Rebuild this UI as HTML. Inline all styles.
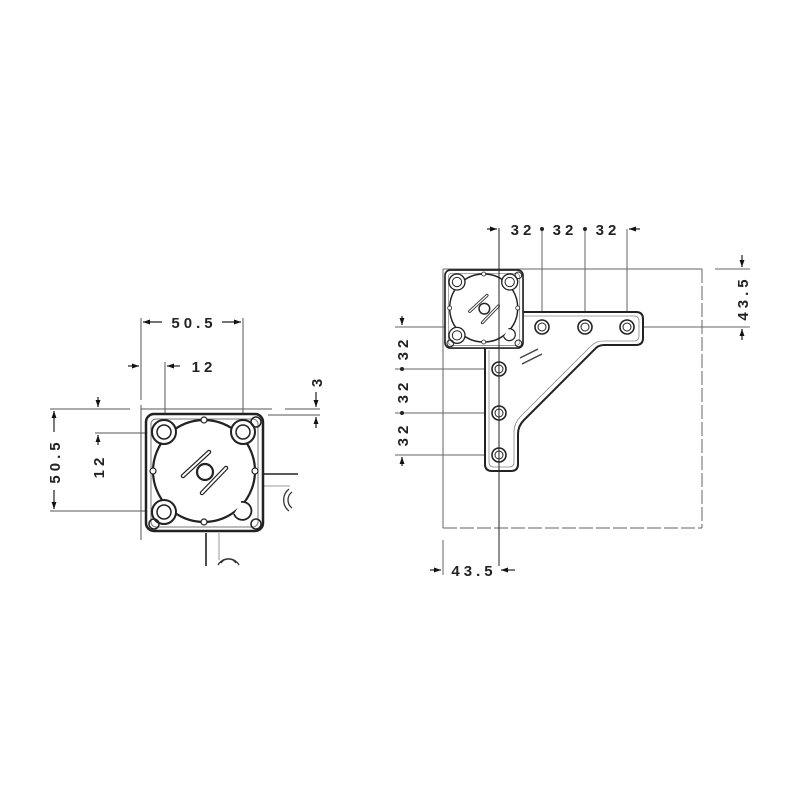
<!DOCTYPE html>
<html><head><meta charset="utf-8"><style>
html,body{margin:0;padding:0;background:#fff;}
svg{display:block}
text{font-family:"Liberation Sans",sans-serif;font-weight:bold;font-size:15px;fill:#222;letter-spacing:4px}
</style></head><body>
<svg width="800" height="800" viewBox="0 0 800 800" xmlns="http://www.w3.org/2000/svg">
<defs>
<marker id="a" viewBox="0 0 10 10" refX="10" refY="5" markerWidth="11" markerHeight="7" orient="auto-start-reverse" markerUnits="userSpaceOnUse"><path d="M0,1.5 L10,5 L0,8.5z" fill="#111"/></marker>
<g id="plate">
 <rect x="0" y="0" width="117" height="117" rx="8" fill="#fff" stroke="#222" stroke-width="2.5"/>
 <rect x="5" y="5" width="107" height="108" rx="5" fill="none" stroke="#777" stroke-width="1"/>
 <circle cx="58" cy="57" r="51" fill="#fff" stroke="#222" stroke-width="2.2"/>
 <circle cx="18" cy="18" r="12" fill="#fff" stroke="#222" stroke-width="2"/><circle cx="18" cy="18" r="7" fill="none" stroke="#222" stroke-width="1.5"/>
 <circle cx="97" cy="18" r="12" fill="#fff" stroke="#222" stroke-width="2"/><circle cx="97" cy="18" r="7" fill="none" stroke="#222" stroke-width="1.5"/>
 <circle cx="18" cy="98" r="12" fill="#fff" stroke="#222" stroke-width="2"/><circle cx="18" cy="98" r="7" fill="none" stroke="#222" stroke-width="1.5"/>
 <path d="M95,88 A9,9 0 1 1 88,100" fill="#fff" stroke="#222" stroke-width="1.8"/>
 <circle cx="110" cy="8" r="5" fill="none" stroke="#222" stroke-width="1.5"/>
 <circle cx="8" cy="110" r="5" fill="none" stroke="#222" stroke-width="1.5"/>
 <circle cx="110" cy="110" r="5" fill="none" stroke="#222" stroke-width="1.5"/>
 <circle cx="58" cy="6" r="3" fill="#fff" stroke="#222" stroke-width="1.2"/>
 <circle cx="58" cy="108" r="3" fill="#fff" stroke="#222" stroke-width="1.2"/>
 <circle cx="7" cy="57" r="3" fill="#fff" stroke="#222" stroke-width="1.2"/>
 <circle cx="109" cy="57" r="3" fill="#fff" stroke="#222" stroke-width="1.2"/>
 <line x1="37" y1="62" x2="63" y2="38" stroke="#222" stroke-width="4.5" stroke-linecap="round"/>
 <line x1="37" y1="62" x2="63" y2="38" stroke="#fff" stroke-width="2" stroke-linecap="round"/>
 <line x1="56" y1="79" x2="80" y2="54" stroke="#222" stroke-width="4.5" stroke-linecap="round"/>
 <line x1="56" y1="79" x2="80" y2="54" stroke="#fff" stroke-width="2" stroke-linecap="round"/>
 <circle cx="59" cy="58" r="8" fill="#fff" stroke="#222" stroke-width="2.2"/>
</g>
</defs>

<!-- LEFT VIEW -->
<g stroke="#555" stroke-width="1" fill="none">
 <line x1="141" y1="318" x2="141" y2="400"/>
 <line x1="243" y1="318" x2="243" y2="414"/>
 <line x1="165" y1="362" x2="165" y2="414"/>
 <line x1="141" y1="405" x2="141" y2="540"/>
 <line x1="141" y1="409" x2="272" y2="409"/>
 <line x1="285" y1="409" x2="320" y2="409"/>
 <line x1="268" y1="415" x2="320" y2="415"/>
 <line x1="50" y1="409" x2="130" y2="409"/>
 <line x1="50" y1="511" x2="150" y2="511"/>
 <line x1="95" y1="433" x2="150" y2="433"/>
 <line x1="263" y1="486" x2="290" y2="486" stroke="#999"/>
 <line x1="219" y1="533" x2="219" y2="560" stroke="#999"/>
</g>
<line x1="263" y1="474" x2="298" y2="474" stroke="#222" stroke-width="1.6"/>
<line x1="206" y1="533" x2="206" y2="566" stroke="#222" stroke-width="1.6"/>
<path d="M292,492 A10,10 0 0 0 292,508 M289,489 A14,14 0 0 0 289,511" stroke="#333" stroke-width="1.3" fill="none"/>
<path d="M221,563 A9,9 0 0 1 236,563 M218,565 A12,12 0 0 1 239,565" stroke="#333" stroke-width="1.3" fill="none"/>
<use href="#plate" transform="translate(146,414)"/>
<!-- dims left -->
<g stroke="#222" stroke-width="1.2" fill="none">
 <line x1="143" y1="322" x2="162" y2="322" marker-start="url(#a)"/>
 <line x1="222" y1="322" x2="241" y2="322" marker-end="url(#a)"/>
 <line x1="128" y1="366" x2="139" y2="366" marker-end="url(#a)"/>
 <line x1="167" y1="366" x2="180" y2="366" marker-start="url(#a)"/>
 <line x1="316" y1="392" x2="316" y2="407" marker-end="url(#a)"/>
 <line x1="316" y1="417" x2="316" y2="428" marker-start="url(#a)"/>
 <line x1="54" y1="411" x2="54" y2="432" marker-start="url(#a)"/>
 <line x1="54" y1="490" x2="54" y2="509" marker-end="url(#a)"/>
 <line x1="98" y1="397" x2="98" y2="407" marker-end="url(#a)"/>
 <line x1="98" y1="435" x2="98" y2="445" marker-start="url(#a)"/>
</g>
<text x="194" y="328" text-anchor="middle">50.5</text>
<text x="204" y="372" text-anchor="middle">12</text>
<text transform="translate(322,381) rotate(-90)" text-anchor="middle">3</text>
<text transform="translate(60,461) rotate(-90)" text-anchor="middle">50.5</text>
<text transform="translate(104,466) rotate(-90)" text-anchor="middle">12</text>

<!-- RIGHT VIEW -->
<g stroke="#666" stroke-width="1" fill="none">
 <line x1="443" y1="269" x2="702" y2="269"/>
 <line x1="443" y1="269" x2="443" y2="528"/>
 <line x1="702" y1="269" x2="702" y2="528" stroke-dasharray="14 3"/>
 <line x1="443" y1="528" x2="702" y2="528" stroke-dasharray="14 3"/>
 <line x1="443" y1="540" x2="443" y2="575"/>
 <line x1="715" y1="269" x2="750" y2="269"/>
 <line x1="640" y1="327" x2="750" y2="327"/>
 <line x1="542" y1="229" x2="542" y2="318"/>
 <line x1="585" y1="229" x2="585" y2="318"/>
 <line x1="627" y1="229" x2="627" y2="318"/>
 <line x1="395" y1="327" x2="530" y2="327"/>
 <line x1="395" y1="369" x2="490" y2="369"/>
 <line x1="395" y1="413" x2="490" y2="413"/>
 <line x1="395" y1="455" x2="490" y2="455"/>
</g>
<!-- bracket -->
<path d="M520,312 L636,312 Q643,312 643,319 L643,338 Q643,345 636,345 L604,345 Q598,345 594,350 L524,420 Q518,426 518,434 L518,464 Q518,471 511,471 L492,471 Q485,471 485,464 L485,345 L520,345 Z" fill="#fff" stroke="#222" stroke-width="2"/>
<path d="M524,316 L634,316 Q639,316 639,321 L639,336 Q639,341 634,341 L603,341 Q596,341 591,346 L521,416 Q514,423 514,432 L514,462 Q514,467 509,467 L494,467 Q489,467 489,462 L489,350" fill="none" stroke="#888" stroke-width="0.8"/>
<g stroke="#222" fill="#fff">
 <circle cx="542" cy="327" r="7" stroke-width="1.6"/><circle cx="542" cy="327" r="4" stroke-width="1"/>
 <circle cx="585" cy="327" r="7" stroke-width="1.6"/><circle cx="585" cy="327" r="4" stroke-width="1"/>
 <circle cx="627" cy="327" r="7" stroke-width="1.6"/><circle cx="627" cy="327" r="4" stroke-width="1"/>
 <circle cx="499" cy="369" r="7" stroke-width="1.6"/><circle cx="499" cy="369" r="4" stroke-width="1"/>
 <circle cx="499" cy="413" r="7" stroke-width="1.6"/><circle cx="499" cy="413" r="4" stroke-width="1"/>
 <circle cx="499" cy="455" r="7" stroke-width="1.6"/><circle cx="499" cy="455" r="4" stroke-width="1"/>
</g>
<g stroke="#444" stroke-width="1.5"><line x1="520" y1="358" x2="538" y2="349"/><line x1="522" y1="364" x2="542" y2="354"/></g>
<use href="#plate" transform="translate(445,270) scale(0.667)"/>
<line x1="499" y1="228" x2="499" y2="566" stroke="#222" stroke-width="1"/>
<g stroke="#222" stroke-width="1.2" fill="none">
 <line x1="487" y1="229" x2="497" y2="229" marker-end="url(#a)"/>
 <line x1="629" y1="229" x2="640" y2="229" marker-start="url(#a)"/>
 <line x1="742" y1="255" x2="742" y2="267" marker-end="url(#a)"/>
 <line x1="742" y1="329" x2="742" y2="340" marker-start="url(#a)"/>
 <line x1="402" y1="316" x2="402" y2="325" marker-end="url(#a)"/>
 <line x1="402" y1="457" x2="402" y2="466" marker-start="url(#a)"/>
 <line x1="430" y1="570" x2="441" y2="570" marker-end="url(#a)"/>
 <line x1="501" y1="570" x2="515" y2="570" marker-start="url(#a)"/>
</g>
<g fill="#222"><circle cx="542" cy="229" r="2"/><circle cx="585" cy="229" r="2"/><circle cx="402" cy="369" r="2"/><circle cx="402" cy="413" r="2"/></g>
<text x="523" y="235" text-anchor="middle">32</text>
<text x="565" y="235" text-anchor="middle">32</text>
<text x="608" y="235" text-anchor="middle">32</text>
<text transform="translate(408,348) rotate(-90)" text-anchor="middle">32</text>
<text transform="translate(408,391) rotate(-90)" text-anchor="middle">32</text>
<text transform="translate(408,434) rotate(-90)" text-anchor="middle">32</text>
<text transform="translate(748,298) rotate(-90)" text-anchor="middle">43.5</text>
<text x="474" y="576" text-anchor="middle">43.5</text>
</svg>
</body></html>
